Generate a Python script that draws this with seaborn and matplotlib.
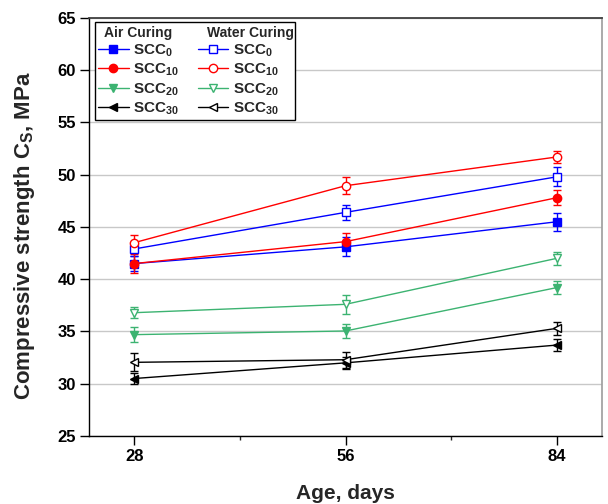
import numpy as np
import pandas as pd
import matplotlib
matplotlib.use("Agg")
import matplotlib.pyplot as plt
from matplotlib.lines import Line2D
import seaborn as sns

# Datos
age = [28, 56, 84]

air_scc0 = [41.5, 43.1, 45.5]
air_scc10 = [41.5, 43.6, 47.8]
air_scc20 = [34.7, 35.05, 39.2]
air_scc30 = [30.5, 32.0, 33.7]

water_scc0 = [42.9, 46.4, 49.8]
water_scc10 = [43.5, 48.95, 51.7]
water_scc20 = [36.8, 37.6, 42.0]
water_scc30 = [32.05, 32.3, 35.3]

err_air_scc0 = [0.7, 0.9, 0.85]
err_air_scc10 = [0.9, 0.8, 0.7]
err_air_scc20 = [0.7, 0.7, 0.6]
err_air_scc30 = [0.5, 0.55, 0.55]
err_water_scc0 = [0.7, 0.7, 0.9]
err_water_scc10 = [0.7, 0.8, 0.6]
err_water_scc20 = [0.5, 0.9, 0.65]
err_water_scc30 = [0.85, 0.75, 0.65]

labels = [r"$\mathbf{SCC}_\mathbf{0}$", r"$\mathbf{SCC}_\mathbf{10}$",
          r"$\mathbf{SCC}_\mathbf{20}$", r"$\mathbf{SCC}_\mathbf{30}$"]

# Estetica
sns.set_theme(style="ticks")
plt.rcParams['font.family'] = ['Liberation Sans', 'DejaVu Sans']
plt.rcParams['font.weight'] = 'bold'
plt.rcParams['mathtext.fontset'] = 'custom'
plt.rcParams['mathtext.rm'] = 'Liberation Sans'
plt.rcParams['mathtext.bf'] = 'Liberation Sans:bold'

colores = ['#0000FF', '#FF0000', '#3CB371', '#000000']
marcadores = ['s', 'o', 'v', '<']

air = [air_scc0, air_scc10, air_scc20, air_scc30]
water = [water_scc0, water_scc10, water_scc20, water_scc30]
err_air = [err_air_scc0, err_air_scc10, err_air_scc20, err_air_scc30]
err_water = [err_water_scc0, err_water_scc10, err_water_scc20, err_water_scc30]

fig = plt.figure(figsize=(6.08, 5.04), dpi=100)
ax = fig.add_axes([89/608, 1-436/504, (602-89)/608, (436-18)/504])

for i in range(4):
    for serie, err, relleno in [(air[i], err_air[i], colores[i]), (water[i], err_water[i], 'white')]:
        df = pd.DataFrame({'Age': age, 'Cs': serie})
        ax.errorbar(age, serie, yerr=err, fmt='none', ecolor=colores[i],
                    elinewidth=1, capsize=3.2, capthick=1, zorder=2)
        sns.lineplot(data=df, x='Age', y='Cs', ax=ax, color=colores[i], linewidth=1,
                     marker=marcadores[i], markersize=6, markerfacecolor=relleno,
                     markeredgecolor=colores[i], markeredgewidth=1, zorder=3)

ax.set_xlim(22, 90)
ax.set_ylim(25, 65)
ax.set_xticks(age)
ax.set_xticks([42, 70], minor=True)
ax.set_yticks(np.arange(25, 66, 5))
ax.yaxis.grid(True, color='#C8C8C8', linewidth=1)
ax.set_axisbelow(True)
ax.spines['top'].set_color('#404040')
ax.spines['top'].set_linewidth(1.3)
ax.spines['right'].set_color('#A0A0A0')
for s in ['left', 'bottom']:
    ax.spines[s].set_color('black')
    ax.spines[s].set_linewidth(1)
ax.tick_params(axis='both', which='major', direction='out', length=6.5, width=1,
               labelsize=12, color='black', labelcolor='black', pad=3)
ax.tick_params(axis='x', which='minor', direction='out', length=3, width=1)
for t in ax.get_xticklabels() + ax.get_yticklabels():
    t.set_fontweight('bold')

ax.set_xlabel("Age, days", fontsize=15, fontweight='bold', labelpad=14)
ax.set_ylabel(r"Compressive strength C$_\mathbf{S}$, MPa", fontsize=16, fontweight='bold')
ax.yaxis.set_label_coords(-0.102, 0.48)

# Leyenda en dos columnas (la fila de cabecera queda vacia y se escribe aparte)
blank = Line2D([], [], linestyle='none')
handles = [blank]
etiquetas = [" "]
for i in range(4):
    handles.append(Line2D([], [], color=colores[i], lw=1, marker=marcadores[i], markersize=6,
                          markerfacecolor=colores[i], markeredgecolor=colores[i]))
    etiquetas.append(labels[i])
handles.append(blank)
etiquetas.append(" " * 14)
for i in range(4):
    handles.append(Line2D([], [], color=colores[i], lw=1, marker=marcadores[i], markersize=6,
                          markerfacecolor='white', markeredgecolor=colores[i]))
    etiquetas.append(labels[i])

leg = ax.legend(handles, etiquetas, ncol=2, loc='upper left', bbox_to_anchor=(0.012, 0.99),
                borderaxespad=0, fontsize=11, handlelength=2.0, handletextpad=0.3,
                columnspacing=1.2, labelspacing=0.18, fancybox=False, framealpha=1,
                edgecolor='black', borderpad=0.2)
leg.get_frame().set_linewidth(1)

fig.text(104/608, 1-33/504, "Air Curing", fontsize=10, fontweight='bold', va='center', ha='left')
fig.text(207/608, 1-33/504, "Water Curing", fontsize=10, fontweight='bold', va='center', ha='left')

plt.savefig("out.png", dpi=100)
